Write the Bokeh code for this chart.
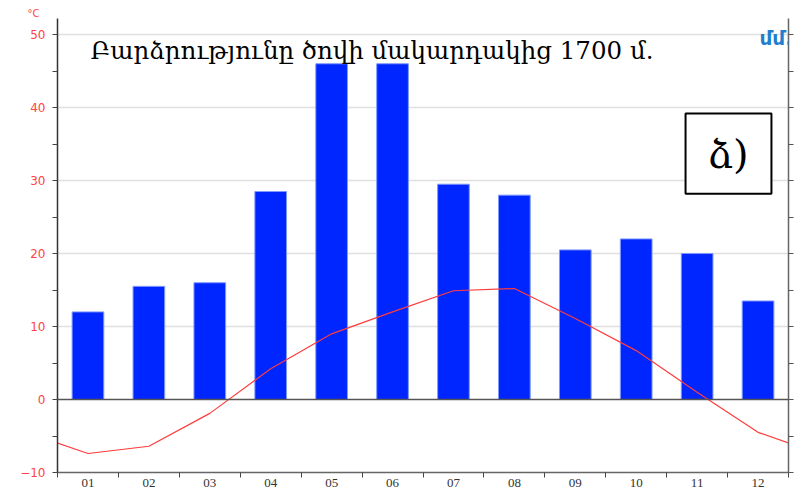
from bokeh.plotting import figure
from bokeh.models import Range1d, LinearAxis, FixedTicker, Span, Label, BoxAnnotation
from bokeh.embed import file_html
from bokeh.resources import INLINE

# monthly climate data
months = list(range(1, 13))
month_labels = ["01", "02", "03", "04", "05", "06", "07", "08", "09", "10", "11", "12"]
temp_c = [-7.4, -6.4, -1.9, 4.2, 9.0, 12.0, 14.9, 15.2, 11.1, 6.7, 1.0, -4.5]
precip_mm = [24, 31, 32, 57, 92, 92, 59, 56, 41, 44, 40, 27]
precip_ticks = list(range(-20, 101, 10))

title_text = "Բարձրությունը ծովի մակարդակից 1700 մ."
unit_text = "մմ."
box_text = "ձ)"

p = figure(width=795, height=490, x_range=Range1d(0.5, 12.5), y_range=Range1d(-10, 52.2),
           output_backend="svg", toolbar_location=None,
           min_border_left=57, min_border_right=7, min_border_top=18, min_border_bottom=18)
p.outline_line_color = None
p.background_fill_color = "white"
p.border_fill_color = "white"

# "°C" unit over the left axis
p.title.text = "°C"
p.title.align = "left"
p.title.offset = -30
p.title.standoff = 0
p.title.text_font = "DejaVu Sans"
p.title.text_font_size = "10px"
p.title.text_font_style = "normal"
p.title.text_color = "#ff4444"

# precipitation on its own scale (2 mm per 1 degree)
p.extra_y_ranges = {"precip": Range1d(-20, 104.4)}
p.vbar(x=months, top=precip_mm, bottom=0, width=0.52, y_range_name="precip",
       fill_color="#0026ff", line_color="#7f99ff", line_width=1)

# temperature, wrapped round the year at both ends
line_x = [0] + months + [13]
line_y = [temp_c[-1]] + temp_c + [temp_c[0]]
p.line(line_x, line_y, line_color="#ff3b3b", line_width=1.2)

p.add_layout(Span(location=0, dimension="width", line_color="#555555", line_width=1.5))

# x axis
p.xaxis.ticker = FixedTicker(ticks=months, minor_ticks=[m + 0.5 for m in range(0, 13)])
p.xaxis.major_label_overrides = {m: lab for m, lab in zip(months, month_labels)}
p.xaxis.major_tick_out = 0
p.xaxis.major_tick_in = 0
p.xaxis.minor_tick_out = 5
p.xaxis.minor_tick_in = 0
p.xaxis.major_label_standoff = 1
p.xaxis.axis_line_color = "#666666"
p.xaxis.axis_line_width = 1.5
p.xaxis.minor_tick_line_color = "#444444"
p.xaxis.major_label_text_font = "Liberation Serif"
p.xaxis.major_label_text_font_size = "13px"
p.xaxis.major_label_text_color = "#333333"

# left axis, degrees
p.yaxis.ticker = FixedTicker(ticks=list(range(-10, 51, 10)), minor_ticks=list(range(-5, 50, 10)))
p.yaxis.major_tick_out = 5
p.yaxis.major_tick_in = 0
p.yaxis.minor_tick_out = 5
p.yaxis.minor_tick_in = 0
p.yaxis.major_label_standoff = 7
p.yaxis.axis_line_color = "#333333"
p.yaxis.axis_line_width = 1.5
p.yaxis.major_tick_line_color = "#444444"
p.yaxis.minor_tick_line_color = "#444444"
p.yaxis.major_label_text_font = "DejaVu Sans"
p.yaxis.major_label_text_font_size = "12px"
p.yaxis.major_label_text_color = "#ff4444"

# right axis, precipitation (its labels fall off the page in the original)
raxis = LinearAxis(y_range_name="precip", ticker=FixedTicker(ticks=precip_ticks))
raxis.major_label_overrides = {t: "" for t in precip_ticks}
raxis.major_label_standoff = 0
raxis.major_tick_out = 5
raxis.major_tick_in = 0
raxis.minor_tick_out = 0
raxis.axis_line_color = "#666666"
raxis.axis_line_width = 1.5
raxis.major_tick_line_color = "#555555"
p.add_layout(raxis, "right")

p.xgrid.visible = False
p.ygrid.ticker = FixedTicker(ticks=[10, 20, 30, 40, 50])
p.ygrid.grid_line_color = "#e0e0e0"
p.ygrid.grid_line_width = 1.5

p.add_layout(Label(x=1.04, y=47.8, text=title_text, text_font="DejaVu Serif",
                   text_font_size="24.5px", text_color="#000000", text_baseline="alphabetic"))

p.add_layout(Label(x=12.57, y=49.5, text=unit_text, text_font="DejaVu Sans",
                   text_font_size="20px", text_font_style="bold", text_color="#1f7fcf",
                   text_align="right", text_baseline="alphabetic"))

p.add_layout(BoxAnnotation(left=10.81, right=12.22, bottom=28.2, top=39.2,
                           fill_color="white", fill_alpha=1, line_color="black",
                           line_alpha=1, line_width=2))
p.add_layout(Label(x=11.51, y=33.7, text=box_text, text_font="DejaVu Serif", text_font_size="40px",
                   text_color="#000000", text_align="center", text_baseline="middle"))

open("out.html", "w").write(file_html(p, INLINE))
